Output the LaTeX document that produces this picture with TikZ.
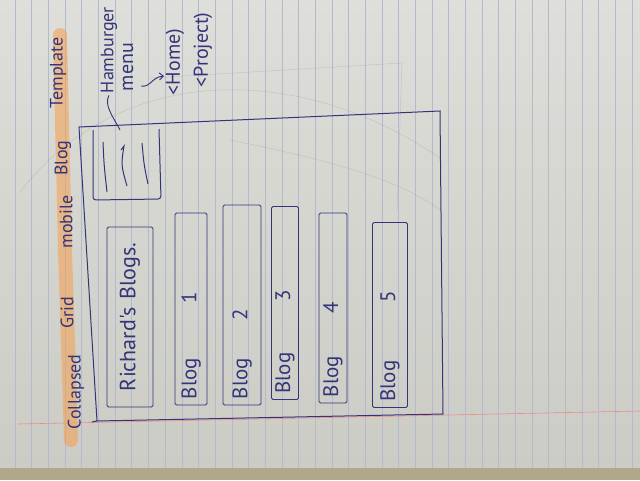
\documentclass[tikz,border=0pt]{standalone}
\usepackage{fontspec}
\usepackage{tikz}
\newfontfamily\handfont{PT Sans}
\usetikzlibrary{arrows.meta}

\definecolor{paper}{RGB}{204,204,197}
\definecolor{paperlight}{RGB}{222,222,218}
\definecolor{rule}{RGB}{178,186,204}
\definecolor{pen}{RGB}{52,52,122}
\definecolor{marker}{RGB}{246,158,78}
\definecolor{margin}{RGB}{232,140,140}
\definecolor{pagestack}{RGB}{176,168,138}

\begin{document}
\begin{tikzpicture}[x=1pt,y=-1pt,
        hand/.style={text=pen, font=\handfont\fontsize{#1}{#1}\selectfont, rotate=90, inner sep=2pt},
        blogbox/.style={draw=pen, line width=0.9pt, rounded corners=1.5pt, rotate=90, text=pen,
            font=\handfont\fontsize{21}{21}\selectfont, align=left, inner xsep=6pt, inner ysep=0pt},
        pencil/.style={black!55, line width=0.5pt, opacity=0.22}]
    \useasboundingbox (0,0) rectangle (640,480);
    % the notebook page
    \shade[top color=paperlight, bottom color=paper] (0,0) rectangle (640,468);
    \fill[pagestack] (0,468) rectangle (640,480);
    \foreach \k in {0,...,37}
        \draw[rule, line width=0.4pt] ({15+16.67*\k},0) -- ({15+16.67*\k},468);
    \draw[margin, line width=0.6pt] (18,424) -- (640,411);
    \draw[pencil] (20,192) .. controls (120,62) and (300,62) .. (440,158);
    \draw[pencil] (150,78) -- (402,63) -- (397,212);
    \draw[pencil] (230,140) .. controls (330,160) and (400,180) .. (440,210);

    % title, highlighted
    \draw[marker, opacity=0.55, line width=14pt, line cap=round] (71,440) -- (65,250) -- (60,35);
    \node[hand=18] (tcollapsed) at (76,392) {Collapsed};
    \node[hand=18] (tgrid) at (67,313) {Grid};
    \node[hand=18] (tmobile) at (66,222) {mobile};
    \node[hand=18] (tblog) at (63,158) {Blog};
    \node[hand=18] (ttemplate) at (58,73) {Template};

    % phone frame
    \draw[pen, line width=1pt] (79,127) -- (440,111) -- (443,414) -- (97,421) -- cycle;
    \draw[pen, line width=1pt] (97,421) -- (92,422);

    % hamburger menu
    \draw[pen, line width=1pt, rounded corners=3pt] (93,130) -- (93,200) -- (161,199) -- (159,129);
    \draw[pen, line width=1pt] (103,142) .. controls (104,165) .. (107,192);
    \draw[pen, line width=1pt] (121,150) -- (124,146) .. controls (121,165) .. (127,186);
    \draw[pen, line width=1pt] (142,143) .. controls (144,165) .. (148,184);
    \coordinate (hbtop) at (120,130);

    % header and posts
    \node[blogbox, font=\handfont\fontsize{22}{22}\selectfont, align=center,
        text width=168pt, minimum height=46pt] (header) at (130,317) {Richard's Blogs.};
    \foreach \n/\bx/\by/\btw/\bthk/\bgap in {1/191/309/180/32/55, 2/242/305/188/38/38,
            3/285/303/181/27/51, 4/333/308/178/28/43, 5/390/315/173/35/58}
        \node[blogbox, text width=\btw pt, minimum height=\bthk pt] (blog\n) at (\bx,\by)
            {Blog\hspace{\bgap pt}\n};

    % note on the menu
    \node[hand=18] (ham) at (109,50) {Hamburger};
    \node[hand=20] (menu) at (128,67) {menu};
    \node[hand=20] (home) at (175,62) {<Home)};
    \node[hand=20] (proj) at (203,50) {<Project)};
    \draw[pen, line width=0.9pt] (hbtop) .. controls (112,115) and (104,105) .. (ham.west);
    \draw[pen, line width=0.9pt, -{Straight Barb[length=4pt,width=7pt]}]
        (141,86) .. controls (150,88) and (152,77) .. (164,76);
\end{tikzpicture}
\end{document}
